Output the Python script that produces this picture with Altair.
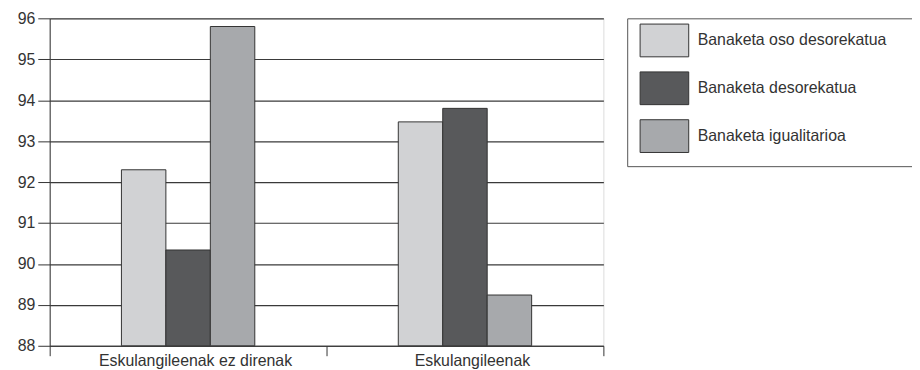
import altair as alt
import pandas as pd

groups = ["Eskulangileenak ez direnak", "Eskulangileenak"]
series = ["Banaketa oso desorekatua", "Banaketa desorekatua", "Banaketa igualitarioa"]
values = {
    "Banaketa oso desorekatua": [92.3, 93.47],
    "Banaketa desorekatua": [90.34, 93.8],
    "Banaketa igualitarioa": [95.8, 89.24],
}
colors = ["#d1d2d4", "#58595b", "#a7a9ac"]
y_ticks = [88, 89, 90, 91, 92, 93, 94, 95, 96]

rows = []
for s in series:
    for g, v in zip(groups, values[s]):
        rows.append({"group": g, "series": s, "value": v})
df = pd.DataFrame(rows)

font = "Liberation Sans"
txt = "#333333"

# empty slots on both sides of each group of bars
offset_domain = ["_left"] + series + ["_right"]

bars = alt.Chart(df).mark_bar(stroke="#333333", strokeWidth=1).encode(
    x=alt.X("group:N", sort=groups, title=None,
            scale=alt.Scale(paddingInner=0, paddingOuter=0),
            axis=alt.Axis(labelAngle=0, tickBand="extent", tickSize=10,
                          labelPadding=-3, labelOffset=7, labelFontSize=16, labelColor=txt,
                          labelFont=font, domainColor="#333333", tickColor="#333333",
                          grid=False, labelLimit=400)),
    xOffset=alt.XOffset("series:N",
                        scale=alt.Scale(domain=offset_domain, paddingInner=0, paddingOuter=0.614)),
    y=alt.Y("value:Q", title=None,
            scale=alt.Scale(domain=[y_ticks[0], y_ticks[-1]], zero=False, nice=False),
            axis=alt.Axis(values=y_ticks, tickSize=12, labelPadding=3,
                          labelFontSize=16, labelColor=txt, labelFont=font,
                          domainColor="#333333", tickColor="#333333",
                          grid=True, gridColor="#3a3a3a", gridWidth=1.2)),
    y2=alt.datum(y_ticks[0]),
    color=alt.Color("series:N", sort=series,
                    scale=alt.Scale(domain=series, range=colors),
                    legend=alt.Legend(title=None, orient="none", legendX=582, legendY=0,
                                      symbolType="M-1.485,-1H1.485V1H-1.485Z M0,1.35",
                                      symbolSize=1089, symbolStrokeColor="#333333",
                                      symbolStrokeWidth=1, symbolOffset=15.2,
                                      labelOffset=16.5, labelFontSize=16, labelColor=txt,
                                      labelFont=font, labelLimit=0,
                                      labelExpr="datum.label + '\u2800\u2800'",
                                      rowPadding=4.2, padding=5.3,
                                      strokeColor="#555555", fillColor="white")),
)

chart = bars.properties(
    width=558, height=330,
    autosize=alt.AutoSizeParams(type="none"),
    padding={"left": 42, "top": 9, "right": 311, "bottom": 22},
).configure_view(stroke="#333333", strokeWidth=1).configure(background="white")

chart.save("out.html", embed_options={"renderer": "svg", "actions": False})
